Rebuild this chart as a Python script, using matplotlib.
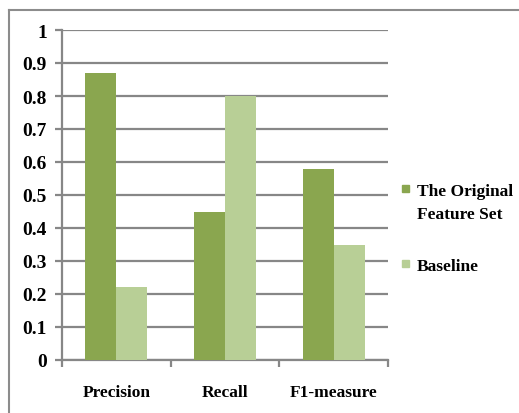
import matplotlib
matplotlib.use("Agg")
import matplotlib.pyplot as plt
from matplotlib.lines import Line2D
from matplotlib.patches import Rectangle

# data
categories = ["Precision", "Recall", "F1-measure"]
original_vals = [0.87, 0.45, 0.58]
baseline_vals = [0.22, 0.80, 0.35]
series_names = ["The Original\nFeature Set", "Baseline"]
yticks = [0, 0.1, 0.2, 0.3, 0.4, 0.5, 0.6, 0.7, 0.8, 0.9, 1]
ytick_labels = ["0", "0.1", "0.2", "0.3", "0.4", "0.5", "0.6", "0.7", "0.8", "0.9", "1"]

dark_green = "#8aa64f"
light_green = "#b8cf96"
grid_gray = "#878787"

plt.rcParams["font.family"] = ["Liberation Serif", "DejaVu Serif"]
plt.rcParams["font.weight"] = "bold"

W, H = 519, 414
fig = plt.figure(figsize=(W / 100, H / 100), dpi=100)
ax = fig.add_axes([62 / W, 53 / H, 326 / W, 330 / H])

w = 0.285
x = list(range(len(categories)))
ax.bar([i - w / 2 for i in x], original_vals, width=w, color=dark_green, zorder=3)
ax.bar([i + w / 2 for i in x], baseline_vals, width=w, color=light_green, zorder=3)

ax.set_xlim(-0.5, len(categories) - 0.5)
ax.set_ylim(0, 1)
ax.set_yticks(yticks)
ax.set_yticklabels(ytick_labels)
ax.yaxis.grid(True, color=grid_gray, linewidth=1.6, zorder=0)
ax.set_axisbelow(True)

# categories as minor ticks, boundaries as major ticks (Excel style)
ax.set_xticks([i - 0.5 for i in range(len(categories) + 1)])
ax.set_xticklabels([])
ax.set_xticks(x, minor=True)
ax.set_xticklabels(categories, minor=True)
ax.tick_params(axis="x", which="minor", length=0, pad=17, labelsize=12.5)
ax.tick_params(axis="x", which="major", length=5, width=1.6, color=grid_gray)
ax.tick_params(axis="y", length=5, width=1.6, color=grid_gray, labelsize=14, pad=6)

for s in ["top", "right"]:
    ax.spines[s].set_visible(False)
for s in ["left", "bottom"]:
    ax.spines[s].set_color(grid_gray)
    ax.spines[s].set_linewidth(1.6)

# legend drawn by hand so the marker lines up with the first text line
legend_y = [189, 264]
for name, col, yy in zip(series_names, [dark_green, light_green], legend_y):
    fig.add_artist(Rectangle(((405 - 3.5) / W, 1 - (yy + 3.5) / H), 7 / W, 7 / H,
                             color=col, transform=fig.transFigure))
    fig.text(417 / W, 1 - (yy - 5) / H, name, ha="left", va="top",
             fontsize=12.5, fontweight="bold", linespacing=1.6)

# outer chart border (only top and left visible in the crop)
fig.add_artist(Line2D([9 / W, 9 / W], [0, 1 - 11 / H], color="#8c8c8c", linewidth=1.5))
fig.add_artist(Line2D([9 / W, 1], [1 - 11 / H, 1 - 11 / H], color="#8c8c8c", linewidth=1.5))

fig.savefig("out.png", dpi=100)
